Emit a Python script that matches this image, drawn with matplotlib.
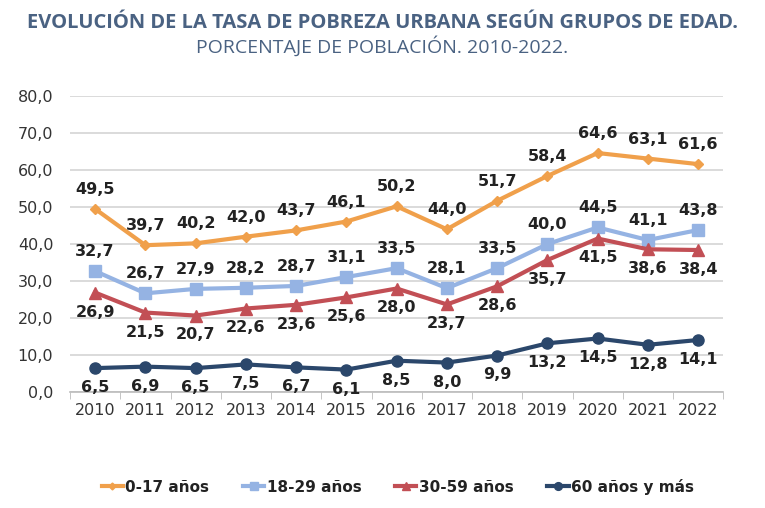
import matplotlib.pyplot as plt
from matplotlib.ticker import FuncFormatter, MultipleLocator

years = [str(y) for y in range(2010, 2023)]
age_0_17 = [49.5, 39.7, 40.2, 42.0, 43.7, 46.1, 50.2, 44.0, 51.7, 58.4, 64.6, 63.1, 61.6]
age_18_29 = [32.7, 26.7, 27.9, 28.2, 28.7, 31.1, 33.5, 28.1, 33.5, 40.0, 44.5, 41.1, 43.8]
age_30_59 = [26.9, 21.5, 20.7, 22.6, 23.6, 25.6, 28.0, 23.7, 28.6, 35.7, 41.5, 38.6, 38.4]
age_60_plus = [6.5, 6.9, 6.5, 7.5, 6.7, 6.1, 8.5, 8.0, 9.9, 13.2, 14.5, 12.8, 14.1]

labels = ["0-17 años", "18-29 años", "30-59 años", "60 años y más"]
colors = ["#f0a04b", "#95b3e3", "#c24f55", "#2b476b"]
markers = ["D", "s", "^", "o"]
msizes = [5, 8, 8, 8]
label_side = [1, 1, -1, -1]


def fmt(v):
    return f"{v:.1f}".replace(".", ",")


fig = plt.figure(figsize=(7.65, 5.08), dpi=100)
ax = fig.add_axes([0.0915, 0.228, 0.854, 0.583])

x = list(range(len(years)))
series = [age_0_17, age_18_29, age_30_59, age_60_plus]
for vals, lab, col, mk, ms, side in zip(series, labels, colors, markers, msizes, label_side):
    ax.plot(x, vals, color=col, lw=3, marker=mk, markersize=ms, label=lab, zorder=3)
    for xi, v in zip(x, vals):
        ax.annotate(fmt(v), (xi, v), xytext=(0, 14 * side), textcoords="offset points",
                    ha="center", va="center", fontsize=11.5, fontweight="bold", color="#222222")

ax.set_xlim(-0.5, len(years) - 0.5)
ax.set_ylim(0, 80)
ax.yaxis.set_major_locator(MultipleLocator(10))
ax.yaxis.set_major_formatter(FuncFormatter(lambda v, p: fmt(v)))
ax.set_xticks(x)
ax.set_xticklabels(years)
ax.set_xticks([i - 0.5 for i in range(len(years) + 1)], minor=True)
ax.tick_params(axis="x", which="major", length=0, pad=8, labelsize=11.5, labelcolor="#333333")
ax.tick_params(axis="x", which="minor", length=5, color="#bbbbbb")
ax.tick_params(axis="y", length=0, pad=12, labelsize=11.5, labelcolor="#333333")
ax.grid(axis="y", color="#d4d4d4", lw=1.2)
ax.set_axisbelow(True)
for s in ["top", "right", "left"]:
    ax.spines[s].set_visible(False)
ax.spines["bottom"].set_color("#bbbbbb")
ax.spines["bottom"].set_linewidth(1.2)

fig.text(0.5, 0.955, "EVOLUCIÓN DE LA TASA DE POBREZA URBANA SEGÚN GRUPOS DE EDAD.",
         ha="center", va="center", fontsize=14.5, fontweight="bold", color="#4a6282",
         family="Open Sans")
fig.text(0.5, 0.908, "PORCENTAJE DE POBLACIÓN. 2010-2022.",
         ha="center", va="center", fontsize=14, color="#4a6282", family="Open Sans")

leg = fig.legend(loc="center", bbox_to_anchor=(0.52, 0.042), ncol=4, frameon=False,
                 handlelength=1.4, handletextpad=0.15, columnspacing=2.2, markerscale=0.7,
                 prop={"weight": "bold", "size": 11})
for t in leg.get_texts():
    t.set_color("#222222")

fig.savefig("out.png", dpi=100)
